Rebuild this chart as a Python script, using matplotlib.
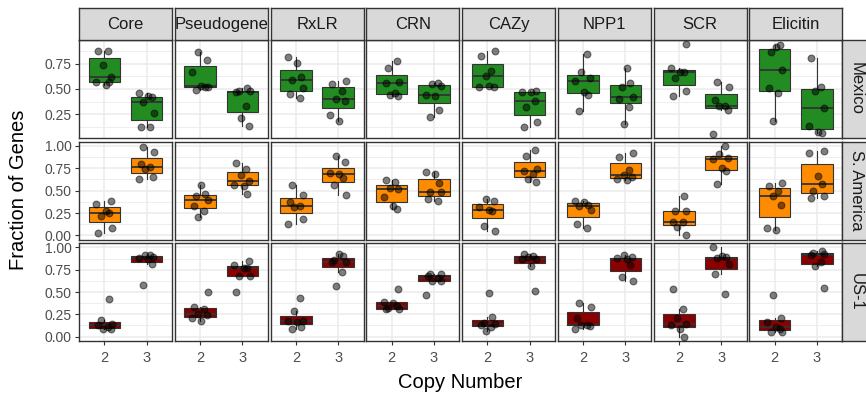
import numpy as np
import matplotlib.pyplot as plt
from matplotlib.ticker import FormatStrFormatter

plt.rcParams['font.family'] = ['Liberation Sans', 'DejaVu Sans']

# categories
gene_classes = ['Core', 'Pseudogene', 'RxLR', 'CRN', 'CAZy', 'NPP1', 'SCR', 'Elicitin']
regions = ['Mexico', 'S. America', 'US-1']
copy_numbers = ['2', '3']
region_colors = ['#228B22', '#FF8C00', '#8B0000']

# fraction of genes per isolate, one list per gene class (order as gene_classes)
mexico_cn2 = [
    [0.88, 0.875, 0.74, 0.624, 0.565, 0.54, 0.57],
    [0.872, 0.79, 0.674, 0.525, 0.515, 0.49, 0.52],
    [0.823, 0.757, 0.624, 0.59, 0.508, 0.452, 0.41],
    [0.78, 0.714, 0.571, 0.558, 0.459, 0.442, 0.435],
    [0.882, 0.829, 0.677, 0.63, 0.518, 0.515, 0.525],
    [0.85, 0.673, 0.607, 0.583, 0.473, 0.44, 0.283],
    [0.945, 0.71, 0.667, 0.665, 0.607, 0.482, 0.432],
    [0.922, 0.94, 0.87, 0.69, 0.508, 0.46, 0.184],
]
mexico_cn3 = [
    [0.46, 0.43, 0.42, 0.373, 0.26, 0.125, 0.125],
    [0.505, 0.485, 0.48, 0.475, 0.333, 0.21, 0.128],
    [0.581, 0.548, 0.485, 0.402, 0.382, 0.24, 0.18],
    [0.555, 0.551, 0.53, 0.439, 0.435, 0.286, 0.22],
    [0.485, 0.475, 0.472, 0.376, 0.32, 0.17, 0.12],
    [0.714, 0.558, 0.515, 0.419, 0.4, 0.32, 0.15],
    [0.565, 0.518, 0.39, 0.333, 0.333, 0.286, 0.055],
    [0.813, 0.518, 0.485, 0.31, 0.134, 0.07, 0.061],
]
samerica_cn2 = [
    [0.38, 0.354, 0.273, 0.25, 0.214, 0.081, 0.022],
    [0.565, 0.461, 0.435, 0.4, 0.332, 0.27, 0.207],
    [0.565, 0.454, 0.373, 0.325, 0.314, 0.188, 0.122],
    [0.62, 0.594, 0.528, 0.515, 0.428, 0.325, 0.299],
    [0.41, 0.38, 0.317, 0.28, 0.27, 0.11, 0.048],
    [0.38, 0.372, 0.343, 0.332, 0.28, 0.129, 0.081],
    [0.435, 0.275, 0.268, 0.148, 0.145, 0.092, 0.004],
    [0.583, 0.553, 0.502, 0.443, 0.336, 0.085, 0.059],
]
samerica_cn3 = [
    [0.985, 0.934, 0.793, 0.768, 0.738, 0.65, 0.627],
    [0.804, 0.738, 0.675, 0.613, 0.565, 0.557, 0.461],
    [0.886, 0.823, 0.694, 0.683, 0.638, 0.565, 0.454],
    [0.705, 0.683, 0.583, 0.49, 0.48, 0.41, 0.387],
    [0.96, 0.893, 0.742, 0.723, 0.683, 0.627, 0.601],
    [0.922, 0.878, 0.73, 0.675, 0.657, 0.63, 0.62],
    [1.0, 0.908, 0.86, 0.852, 0.749, 0.723, 0.576],
    [0.945, 0.922, 0.668, 0.572, 0.502, 0.446, 0.417],
]
us1_cn2 = [
    [0.423, 0.19, 0.14, 0.13, 0.11, 0.087, 0.082],
    [0.502, 0.33, 0.31, 0.25, 0.237, 0.213, 0.176],
    [0.431, 0.288, 0.18, 0.176, 0.165, 0.112, 0.086],
    [0.536, 0.39, 0.375, 0.345, 0.318, 0.311, 0.307],
    [0.487, 0.217, 0.155, 0.142, 0.131, 0.105, 0.067],
    [0.382, 0.337, 0.206, 0.131, 0.131, 0.12, 0.082],
    [0.532, 0.307, 0.206, 0.142, 0.131, 0.086, 0.0],
    [0.461, 0.21, 0.165, 0.11, 0.085, 0.055, 0.048],
]
us1_cn3 = [
    [0.918, 0.91, 0.891, 0.88, 0.87, 0.813, 0.577],
    [0.843, 0.798, 0.775, 0.768, 0.685, 0.685, 0.498],
    [0.925, 0.899, 0.861, 0.835, 0.84, 0.719, 0.569],
    [0.704, 0.70, 0.685, 0.655, 0.618, 0.618, 0.468],
    [0.929, 0.906, 0.891, 0.876, 0.869, 0.79, 0.513],
    [0.918, 0.891, 0.88, 0.869, 0.798, 0.667, 0.618],
    [1.0, 0.9, 0.89, 0.88, 0.813, 0.7, 0.476],
    [0.955, 0.94, 0.932, 0.918, 0.835, 0.794, 0.55],
]

row_data = [(mexico_cn2, mexico_cn3), (samerica_cn2, samerica_cn3), (us1_cn2, us1_cn3)]

W, H = 866, 393
fig = plt.figure(figsize=(W / 100, H / 100), dpi=100)
fig.patch.set_facecolor('white')


def px_axes(x, y, w, h):
    return fig.add_axes([x / W, 1 - (y + h) / H, w / W, h / H])


# layout in pixels
col_x0, col_pitch, col_w = 79, 95.75, 93
row_y0, row_pitch, row_h = 40, 101.5, 98
strip_top_y, strip_h = 8, 32
edge = '#333333'
jitter = [-0.14, 0.09, -0.04, 0.16, -0.19, 0.03, 0.12, -0.09, 0.18]

for r, (cn2, cn3) in enumerate(row_data):
    vals = np.concatenate([np.ravel(cn2), np.ravel(cn3)])
    lo, hi = vals.min(), vals.max()
    pad = 0.05 * (hi - lo)
    ylim = (lo - pad, hi + pad)
    majors = [t for t in np.arange(0, 1.01, 0.25) if ylim[0] <= t <= ylim[1]]
    minors = [t for t in np.arange(-0.125, 1.2, 0.25) if ylim[0] <= t <= ylim[1]]
    y_top = row_y0 + r * row_pitch

    for c in range(len(gene_classes)):
        x_left = col_x0 + c * col_pitch
        ax = px_axes(x_left, y_top, col_w, row_h)
        groups = [cn2[c], cn3[c]]
        ax.boxplot(groups, positions=[1, 2], widths=0.75, patch_artist=True,
                   showfliers=False, showcaps=False, whis=1.5,
                   boxprops=dict(facecolor=region_colors[r], edgecolor=edge, linewidth=0.8),
                   medianprops=dict(color=edge, linewidth=1.3),
                   whiskerprops=dict(color=edge, linewidth=0.8), zorder=2)
        for k, g in enumerate(groups):
            xs = [k + 1 + jitter[(i + 2 * c + 3 * r + 4 * k) % len(jitter)] for i in range(len(g))]
            ax.scatter(xs, g, s=24, c='black', alpha=0.5, edgecolors='black',
                       linewidths=0.8, zorder=3)

        ax.set_xlim(0.4, 2.6)
        ax.set_ylim(*ylim)
        ax.set_xticks([1, 2])
        ax.set_xticklabels(copy_numbers)
        ax.set_yticks(majors)
        ax.set_yticks(minors, minor=True)
        ax.yaxis.set_major_formatter(FormatStrFormatter('%.2f'))
        ax.grid(which='major', color='#EBEBEB', linewidth=1.1, zorder=0)
        ax.grid(which='minor', axis='y', color='#EBEBEB', linewidth=0.6, zorder=0)
        ax.set_axisbelow(True)
        for s in ax.spines.values():
            s.set_color(edge)
            s.set_linewidth(1.0)
        ax.tick_params(which='major', length=3.2, width=0.8, color=edge,
                       labelcolor='#4D4D4D', labelsize=10, pad=2)
        ax.tick_params(axis='x', pad=4, labelsize=10.5)
        ax.tick_params(which='minor', length=0)
        if c != 0:
            ax.tick_params(axis='y', left=False, labelleft=False)
        if r != len(regions) - 1:
            ax.tick_params(axis='x', bottom=False, labelbottom=False)

        if r == 0:
            sax = px_axes(x_left, strip_top_y, col_w, strip_h)
            sax.set_facecolor('#D9D9D9')
            sax.set_xticks([])
            sax.set_yticks([])
            for s in sax.spines.values():
                s.set_color(edge)
                s.set_linewidth(1.0)
            sax.text(0.5, 0.47, gene_classes[c], ha='center', va='center',
                     fontsize=12, color='#1A1A1A', transform=sax.transAxes)

    rax = px_axes(col_x0 + 7 * col_pitch + col_w, y_top, 28, row_h)
    rax.set_facecolor('#D9D9D9')
    rax.set_xticks([])
    rax.set_yticks([])
    for s in rax.spines.values():
        s.set_color(edge)
        s.set_linewidth(1.0)
    rax.text(0.5, 0.5, regions[r], ha='center', va='center', rotation=-90,
             fontsize=12, color='#1A1A1A', transform=rax.transAxes)

fig.text(460 / W, 1 - 388 / H, 'Copy Number', ha='center', va='baseline',
         fontsize=14.5, color='black')
fig.text(19 / W, 1 - 190 / H, 'Fraction of Genes', ha='center', va='center',
         rotation=90, fontsize=14.5, color='black')

fig.savefig('out.png', dpi=100)
